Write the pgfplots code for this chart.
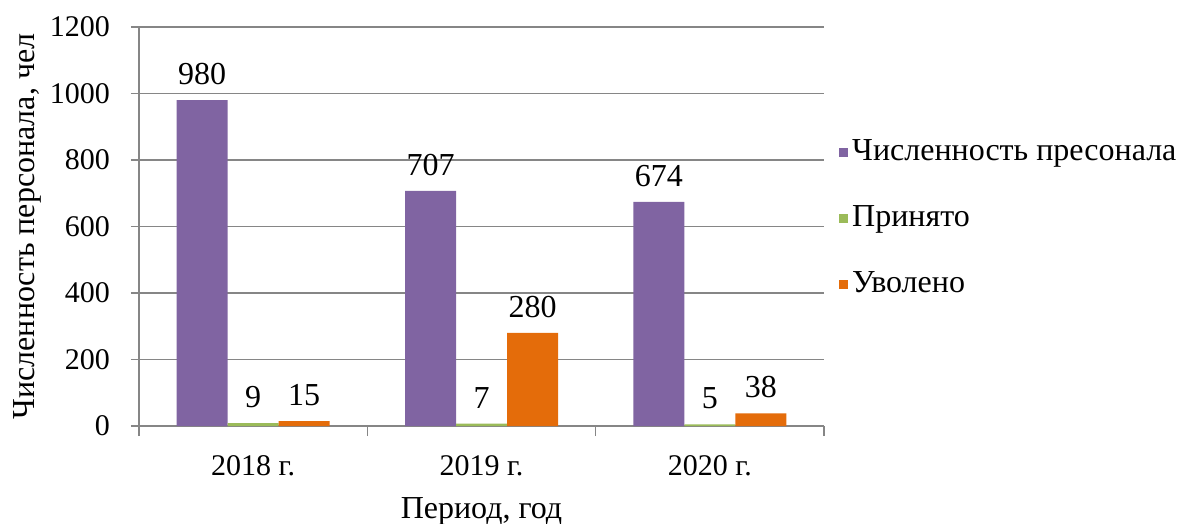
\documentclass[border=0pt]{standalone}
\usepackage{fontspec}
\setmainfont{Liberation Serif}
\usepackage{pgfplots}
\pgfplotsset{compat=1.18}
\definecolor{cPurple}{HTML}{8064A2}
\definecolor{cGreen}{HTML}{9BBB59}
\definecolor{cOrange}{HTML}{E46C0A}
\definecolor{cAxis}{HTML}{868686}
\begin{document}
\fontsize{16pt}{18pt}\selectfont
\begin{tikzpicture}
\path[use as bounding box] (-69.5pt,-49pt) rectangle (519pt,213pt);
\begin{axis}[
  at={(0,0)}, anchor=south west,
  scale only axis, width=342.5pt, height=199.5pt,
  ybar=0pt, bar width=25.5pt,
  xmin=-0.5, xmax=2.5, ymin=0, ymax=1200,
  xtick={0,1,2}, xticklabels={2018 г.,2019 г.,2020 г.},
  minor xtick={-0.5,0.5,1.5,2.5},
  major x tick style={draw=none},
  minor x tick style={cAxis, line width=0.8pt},
  minor tick length=5pt,
  ytick={0,200,...,1200},
  y tick style={cAxis, line width=0.8pt},
  major tick length=4pt,
  tick align=outside, xtick pos=bottom, ytick pos=left,
  ymajorgrids, grid style={cAxis, line width=0.6pt},
  axis x line*=bottom, axis y line*=left,
  axis line style={cAxis, line width=0.8pt, -},
  /pgf/number format/assume math mode=true,
  /pgf/number format/1000 sep={},
  tick label style={font=\fontsize{15pt}{18pt}\selectfont, black},
  yticklabel style={xshift=-5pt},
  xticklabel style={yshift=-5pt},
  xlabel={Период, год}, ylabel={Численность персонала, чел},
  label style={font=\fontsize{16pt}{18pt}\selectfont},
  xlabel style={yshift=0pt},
  ylabel style={yshift=-6.5pt},
  nodes near coords,
  nodes near coords style={font=\fontsize{16pt}{18pt}\selectfont, black, yshift=2pt},
  legend style={at={(1.0,0.52)}, anchor=west, draw=none, fill=none,
    font=\fontsize{16pt}{18pt}\selectfont, row sep=16pt, xshift=4.5pt},
  legend cell align=left,
  legend image code/.code={\fill[#1] (-2.5pt,-2.2pt) rectangle (1.9pt,2.2pt);},
]
\addplot[fill=cPurple, draw=none] coordinates {(0,980) (1,707) (2,674)};
\addplot[fill=cGreen, draw=none] coordinates {(0,9) (1,7) (2,5)};
\addplot[fill=cOrange, draw=none] coordinates {(0,15) (1,280) (2,38)};
\legend{Численность пресонала, Принято, Уволено}
\end{axis}
\end{tikzpicture}
\end{document}
